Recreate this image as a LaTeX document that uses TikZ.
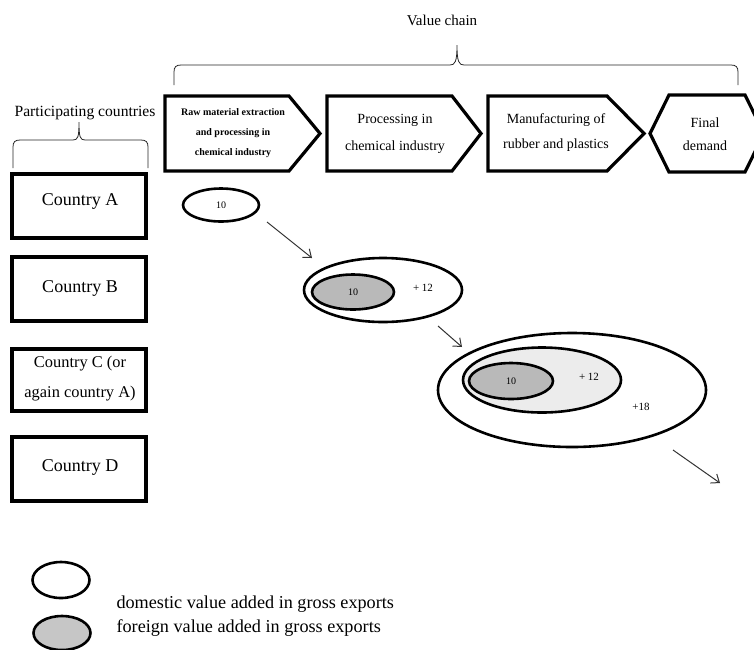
\documentclass[tikz,border=0pt]{standalone}
\usepackage{fontspec}
\setmainfont{Liberation Serif}
\usetikzlibrary{shapes.geometric,arrows.meta}
\tikzset{
  chev/.style={draw=black, line width=3.2pt, line join=miter, fill=white},
  cbox/.style={draw=black, line width=3.6pt, fill=white},
  oval/.style={draw=black, line width=2.6pt, ellipse, inner sep=0pt},
  flowarrow/.style={draw=black!80, line width=1pt, -{Straight Barb[length=7pt,width=11pt]}},
  bracepath/.style={draw=black!85, line width=0.8pt},
  fs/.style={font=\fontsize{#1}{#1}\selectfont},
}
\begin{document}
\begin{tikzpicture}[x=1pt,y=-1pt]
\useasboundingbox (0,0) rectangle (754,649);
\clip (0,0) rectangle (754,649);
\fill[white] (0,0) rectangle (754,649);

% titles
\node[fs=15] (vc) at (442,20) {Value chain};
\node[fs=15.6] (pc) at (85,113) {Participating countries};

% braces
\draw[bracepath] (174,85) -- (174,72) .. controls (174,67) and (176,65) .. (181,65)
  -- (450,65) .. controls (455,65) and (457,62) .. (457,45)
  .. controls (457,62) and (459,65) .. (464,65) -- (731,65)
  .. controls (736,65) and (738,67) .. (738,72) -- (738,85);
\draw[bracepath] (13,168) -- (13,147) .. controls (13,142) and (15,140) .. (20,140)
  -- (73,140) .. controls (78,140) and (79,137) .. (79,122)
  .. controls (79,137) and (80,140) .. (85,140) -- (141,140)
  .. controls (146,140) and (148,142) .. (148,147) -- (148,168);

% value chain stages
\draw[chev] (165,96) -- (289,96) -- (320,133.5) -- (289,171) -- (165,171) -- cycle;
\draw[chev] (327,96) -- (452,96) -- (481,133.5) -- (452,171) -- (327,171) -- cycle;
\draw[chev] (488,96) -- (607,96) -- (644,133.5) -- (607,171) -- (488,171) -- cycle;
\draw[chev] (650,133.5) -- (669,95) -- (745,95) -- (764,133.5) -- (745,172) -- (669,172) -- cycle;

\node[align=center, font=\bfseries\fontsize{10}{20}\selectfont] (s1) at (233,133) {Raw material extraction\\and processing in\\chemical industry};
\node[align=center, font=\fontsize{14}{27}\selectfont] (s2) at (395,134) {Processing in\\chemical industry};
\node[align=center, font=\fontsize{14}{25}\selectfont] (s3) at (556,133) {Manufacturing of\\rubber and plastics};
\node[align=center, font=\fontsize{14}{23}\selectfont] (s4) at (705,134) {Final\\demand};

% countries
\draw[cbox] (12,174) rectangle (146,238);
\node[fs=18] (cA) at (80,201) {Country A};
\draw[cbox] (12,257) rectangle (146,321);
\node[fs=18] (cB) at (80,288) {Country B};
\draw[cbox] (12,349) rectangle (146,411);
\node[align=center, font=\fontsize{16.4}{30}\selectfont] (cC) at (80,379) {Country C (or\\again country A)};
\draw[cbox] (12,437) rectangle (146,501);
\node[fs=18] (cD) at (80,467) {Country D};

% value added ovals
\node[oval, minimum width=76pt, minimum height=33pt, fs=10] (eA) at (221,205) {10};

\node[oval, minimum width=158pt, minimum height=64pt] (eB) at (383,290) {};
\node[oval, fill=gray!55, minimum width=82pt, minimum height=35pt, fs=10] (eBi) at (353,292) {10};
\node[fs=11] (tB) at (423,288) {+ 12};

\node[oval, minimum width=268pt, minimum height=114pt] (eC) at (572,390) {};
\node[oval, fill=gray!15, minimum width=158pt, minimum height=65pt] (eCm) at (542,380) {};
\node[oval, fill=gray!55, minimum width=84pt, minimum height=36pt, fs=10] (eCi) at (511,381) {10};
\node[fs=11] (tC1) at (589,377) {+ 12};
\node[fs=11] (tC2) at (641,407) {+18};

% arrows
\coordinate (a1s) at (267,222);
\coordinate (a1e) at (312,258);
\coordinate (a2s) at (438,326);
\coordinate (a2e) at (462,347);
\coordinate (a3s) at (673,450);
\coordinate (a3e) at (720,483);
\draw[flowarrow] (a1s) -- (a1e);
\draw[flowarrow] (a2s) -- (a2e);
\draw[flowarrow] (a3s) -- (a3e);

% legend
\node[oval, minimum width=57pt, minimum height=36pt] (lg1) at (61,580) {};
\node[oval, fill=gray!45, minimum width=57pt, minimum height=34pt] (lg2) at (62,633) {};
\node[anchor=west, fs=18.2] (lt1) at (113,604) {domestic value added in gross exports};
\node[anchor=west, fs=18.2] (lt2) at (113,628) {foreign value added in gross exports};
\end{tikzpicture}
\end{document}
